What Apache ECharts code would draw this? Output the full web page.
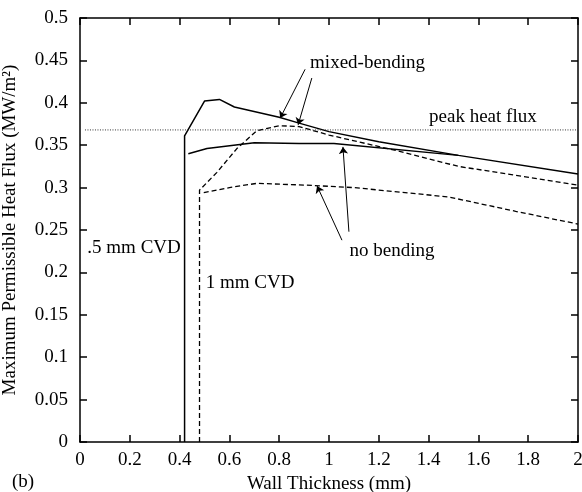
<!DOCTYPE html>
<html>
<head>
<meta charset="utf-8">
<script src="https://cdn.jsdelivr.net/npm/echarts@6/dist/echarts.min.js"></script>
<style>
  html, body { margin: 0; padding: 0; background: #fff; }
  #main { width: 582px; height: 492px; }
</style>
</head>
<body>
<div id="main"></div>
<script>
// wall thickness (mm) vs heat flux (MW/m2)
const mixedHalf = [
    [0.42, 0], [0.42, 0.361], [0.50, 0.402], [0.56, 0.404], [0.62, 0.395],
    [0.80, 0.383], [0.88, 0.376], [1.0, 0.366], [1.2, 0.354], [1.52, 0.338], [2.0, 0.316]
]
const noBendHalf = [
    [0.435, 0.340], [0.51, 0.346], [0.70, 0.353], [0.88, 0.352], [1.02, 0.352], [1.52, 0.338]
]
const mixedOne = [
    [0.48, 0], [0.48, 0.297], [0.55, 0.318], [0.63, 0.346], [0.71, 0.367], [0.80, 0.373],
    [0.88, 0.372], [1.0, 0.362], [1.28, 0.343], [1.52, 0.325], [2.0, 0.303]
]
const noBendOne = [
    [0.497, 0.294], [0.60, 0.300], [0.71, 0.305], [0.90, 0.303], [1.1, 0.300],
    [1.48, 0.289], [1.75, 0.272], [2.0, 0.257]
]
const peakFlux = 0.368
const peakLine = [[0.02, peakFlux], [2.0, peakFlux]]

// annotation arrows [from, to]
const arrows = [
    [[0.904, 0.4395], [0.804, 0.382]],
    [[0.931, 0.4292], [0.876, 0.374]],
    [[1.052, 0.238], [0.952, 0.302]],
    [[1.080, 0.248], [1.056, 0.348]]
]
const notes = [
    { text: 'mixed-bending', at: [1.155, 0.447] },
    { text: 'peak heat flux', at: [1.618, 0.383] },
    { text: '.5 mm CVD', at: [0.217, 0.229] },
    { text: '1 mm CVD', at: [0.683, 0.1875] },
    { text: 'no bending', at: [1.253, 0.225] }
]

const FONT = 'Liberation Serif'
let chart = echarts.init(document.getElementById('main'))

// box axis: line + inward ticks, built fresh for each axis
function frameAxis(extra) {
    return Object.assign({
        type: 'value',
        axisLine: { show: true, onZero: false, lineStyle: { color: '#000', width: 1.5 } },
        axisTick: { show: true, inside: true, length: 7, lineStyle: { color: '#000', width: 1.5 } },
        splitLine: { show: false }
    }, extra)
}

const curve = (data, dashed, width) => ({
    type: 'line',
    data: data,
    showSymbol: false,
    silent: true,
    lineStyle: { color: '#000', width: width, type: dashed ? [5, 3] : 'solid' }
})

let option = {
    animation: false,
    backgroundColor: '#fff',
    grid: { left: 80, right: 4, top: 18, bottom: 50, outerBoundsMode: 'none', containLabel: false },
    xAxis: [
        frameAxis({
            min: 0, max: 2, interval: 0.2,
            name: 'Wall Thickness (mm)', nameLocation: 'middle', nameGap: 28,
            nameTextStyle: { fontFamily: FONT, fontSize: 19, color: '#000' },
            axisLabel: { fontFamily: FONT, fontSize: 19, color: '#000', margin: 9 }
        }),
        frameAxis({
            min: 0, max: 2, interval: 0.2, position: 'top',
            axisLabel: { show: false }
        })
    ],
    yAxis: [
        frameAxis({
            min: 0, max: 0.5, interval: 0.05,
            name: 'Maximum Permissible Heat Flux (MW/m²)', nameLocation: 'middle', nameGap: 60,
            nameTextStyle: { fontFamily: FONT, fontSize: 19, color: '#000' },
            axisLabel: { fontFamily: FONT, fontSize: 19, color: '#000', margin: 12 }
        }),
        frameAxis({
            min: 0, max: 0.5, interval: 0.05, position: 'right',
            axisLabel: { show: false }
        })
    ],
    series: [
        curve(mixedHalf, false, 1.5),
        curve(noBendHalf, false, 1.5),
        curve(mixedOne, true, 1.3),
        curve(noBendOne, true, 1.3),
        {
            type: 'line', data: peakLine, showSymbol: false, silent: true,
            lineStyle: { color: '#333', width: 1, type: [1, 1.5] }
        },
        {
            type: 'lines', coordinateSystem: 'cartesian2d', silent: true,
            data: arrows.map(a => ({ coords: a })),
            symbol: ['none', 'arrow'], symbolSize: 7,
            lineStyle: { color: '#000', width: 1, opacity: 1, curveness: 0 }
        }
    ]
}
chart.setOption(option)

// text notes placed from data coordinates
let graphics = notes.map(n => {
    const p = chart.convertToPixel({ xAxisIndex: 0, yAxisIndex: 0 }, n.at)
    return {
        type: 'text', x: p[0], y: p[1], silent: true,
        style: { text: n.text, font: '19px "' + FONT + '"', fill: '#000', align: 'center', verticalAlign: 'middle' }
    }
})
graphics.push({
    type: 'text', x: 23, y: 482, silent: true,
    style: { text: '(b)', font: '19px "' + FONT + '"', fill: '#000', align: 'center', verticalAlign: 'middle' }
})
chart.setOption({ graphic: graphics })
</script>
</body>
</html>
